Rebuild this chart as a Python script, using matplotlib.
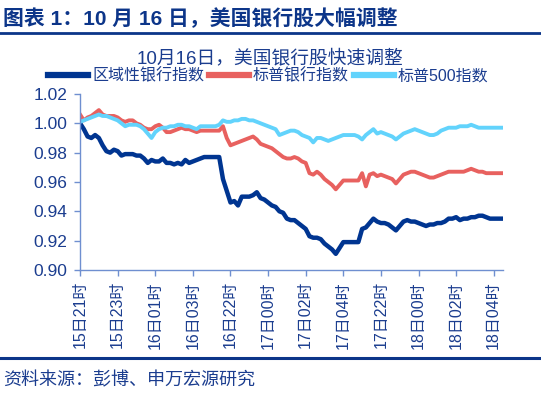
import matplotlib
import matplotlib.pyplot as plt
from matplotlib.lines import Line2D

matplotlib.use("Agg")

plt.rcParams['font.family'] = ['Liberation Sans', 'Noto Sans CJK SC']

# tick labels every 10 samples
tick_labels = ["15日21时", "15日23时", "16日01时", "16日03时", "16日22时", "17日00时",
               "17日02时", "17日04时", "17日22时", "18日00时", "18日02时", "18日04时"]

regional_bank = [
    1.000, 0.996, 0.991, 0.990, 0.992, 0.990, 0.985, 0.981, 0.980, 0.982,
    0.981, 0.978, 0.979, 0.979, 0.979, 0.978, 0.978, 0.976, 0.973, 0.975,
    0.974, 0.974, 0.976, 0.973, 0.973, 0.972, 0.973, 0.972, 0.975, 0.973,
    0.974, 0.975, 0.976, 0.977, 0.977, 0.977, 0.977, 0.977, 0.962, 0.954,
    0.946, 0.947, 0.944, 0.950, 0.950, 0.950, 0.951, 0.953, 0.949, 0.948,
    0.946, 0.944, 0.943, 0.940, 0.939, 0.935, 0.934, 0.934, 0.932, 0.930,
    0.928, 0.923, 0.922, 0.922, 0.921, 0.918, 0.916, 0.914, 0.911, 0.915,
    0.919, 0.919, 0.919, 0.919, 0.919, 0.928, 0.929, 0.932, 0.935, 0.933,
    0.932, 0.932, 0.931, 0.929, 0.927, 0.930, 0.933, 0.934, 0.933, 0.933,
    0.932, 0.931, 0.930, 0.931, 0.931, 0.932, 0.932, 0.933, 0.935, 0.935,
    0.936, 0.934, 0.935, 0.935, 0.936, 0.936, 0.937, 0.937, 0.936, 0.935,
    0.935, 0.935, 0.935,
]

sp_bank = [
    1.006, 1.002, 1.004, 1.005, 1.007, 1.009, 1.006, 1.005, 1.005, 1.005,
    1.004, 1.002, 1.001, 1.002, 1.002, 1.000, 0.999, 0.997, 0.996, 0.996,
    0.998, 0.999, 0.997, 0.994, 0.994, 0.995, 0.996, 0.997, 0.996, 0.996,
    0.995, 0.994, 0.995, 0.995, 0.995, 0.995, 0.995, 0.995, 0.998, 0.990,
    0.985, 0.986, 0.987, 0.988, 0.989, 0.990, 0.991, 0.989, 0.986, 0.985,
    0.984, 0.983, 0.981, 0.979, 0.977, 0.976, 0.976, 0.977, 0.976, 0.974,
    0.973, 0.966, 0.965, 0.967, 0.965, 0.962, 0.960, 0.958, 0.955, 0.958,
    0.961, 0.961, 0.961, 0.961, 0.961, 0.966, 0.957, 0.965, 0.966, 0.964,
    0.965, 0.964, 0.963, 0.962, 0.959, 0.962, 0.965, 0.966, 0.967, 0.967,
    0.966, 0.965, 0.964, 0.963, 0.963, 0.964, 0.965, 0.966, 0.967, 0.967,
    0.967, 0.967, 0.967, 0.968, 0.969, 0.968, 0.967, 0.967, 0.966, 0.966,
    0.966, 0.966, 0.966,
]

sp500 = [
    1.001, 1.002, 1.003, 1.004, 1.005, 1.006, 1.005, 1.005, 1.004, 1.003,
    1.002, 1.000, 0.998, 0.999, 0.999, 0.999, 0.998, 0.996, 0.993, 0.990,
    0.994, 0.996, 0.997, 0.997, 0.998, 0.998, 0.999, 0.999, 0.998, 0.998,
    0.997, 0.996, 0.998, 0.998, 0.998, 0.998, 0.998, 0.999, 1.002, 1.001,
    1.001, 1.002, 1.002, 1.003, 1.003, 1.002, 1.002, 1.001, 1.000, 0.999,
    0.998, 0.997, 0.996, 0.992, 0.993, 0.994, 0.995, 0.995, 0.994, 0.992,
    0.991, 0.990, 0.987, 0.990, 0.990, 0.989, 0.988, 0.989, 0.990, 0.991,
    0.992, 0.992, 0.992, 0.992, 0.991, 0.989, 0.992, 0.994, 0.996, 0.993,
    0.994, 0.993, 0.992, 0.991, 0.989, 0.991, 0.993, 0.994, 0.995, 0.996,
    0.995, 0.994, 0.993, 0.992, 0.992, 0.993, 0.995, 0.996, 0.997, 0.997,
    0.997, 0.998, 0.998, 0.998, 0.999, 0.998, 0.997, 0.997, 0.997, 0.997,
    0.997, 0.997, 0.997,
]

series_names = ["区域性银行指数", "标普银行指数", "标普500指数"]
colors = ["#003591", "#e8615f", "#62d3fc"]
widths = [3.2, 2.8, 2.8]

navy = "#0c3589"
text_blue = "#1b3d8f"
axis_blue = "#6f8fd0"

fig = plt.figure(figsize=(5.41, 3.95), dpi=100)
ax = fig.add_axes([0.148, 0.3165, 0.782, 0.4456])

for vals, name, c, w in zip([regional_bank, sp_bank, sp500], series_names, colors, widths):
    ax.plot(range(len(vals)), vals, color=c, lw=w, label=name, solid_joinstyle='round')

ax.set_xlim(0, 112.5)
ax.set_ylim(0.90, 1.02)
ax.set_yticks([0.90, 0.92, 0.94, 0.96, 0.98, 1.00, 1.02])
ax.set_yticklabels([f"{v:.2f}" for v in ax.get_yticks()])
ax.set_xticks(range(0, 10 * len(tick_labels), 10))
ax.set_xticklabels(tick_labels, rotation=90)

for s in ["top", "right"]:
    ax.spines[s].set_visible(False)
for s in ["left", "bottom"]:
    ax.spines[s].set_color(axis_blue)
    ax.spines[s].set_linewidth(1.0)
ax.tick_params(axis='y', colors=axis_blue, labelcolor=text_blue, labelsize=12.5,
               length=4, width=1, direction='out', pad=5)
ax.tick_params(axis='x', colors=axis_blue, labelcolor=text_blue, labelsize=11.5,
               length=4, width=1, direction='out', pad=4)

# chart title and legend
fig.text(0.5, 0.853, "10月16日，美国银行股快速调整", ha='center', va='center',
         fontsize=13.5, color=text_blue)
handles = [Line2D([0], [0], color=c, lw=4.5) for c in colors]
fig.legend(handles, series_names, loc='center', bbox_to_anchor=(0.496, 0.808), ncol=3,
           frameon=False, fontsize=11.5, handlelength=2.5, handletextpad=0.25,
           columnspacing=0.3, labelcolor=text_blue)

# header and footer
fig.text(0.006, 0.953, "图表 1：10 月 16 日，美国银行股大幅调整", ha='left', va='center',
         fontsize=15, fontweight='bold', color=navy)
fig.add_artist(Line2D([0, 1], [0.917, 0.917], color=navy, lw=2, transform=fig.transFigure))
fig.add_artist(Line2D([0, 1], [0.094, 0.094], color=navy, lw=2.2, transform=fig.transFigure))
fig.text(0.006, 0.035, "资料来源：彭博、申万宏源研究", ha='left', va='center',
         fontsize=13, color=text_blue)

fig.savefig("out.png", dpi=100)
